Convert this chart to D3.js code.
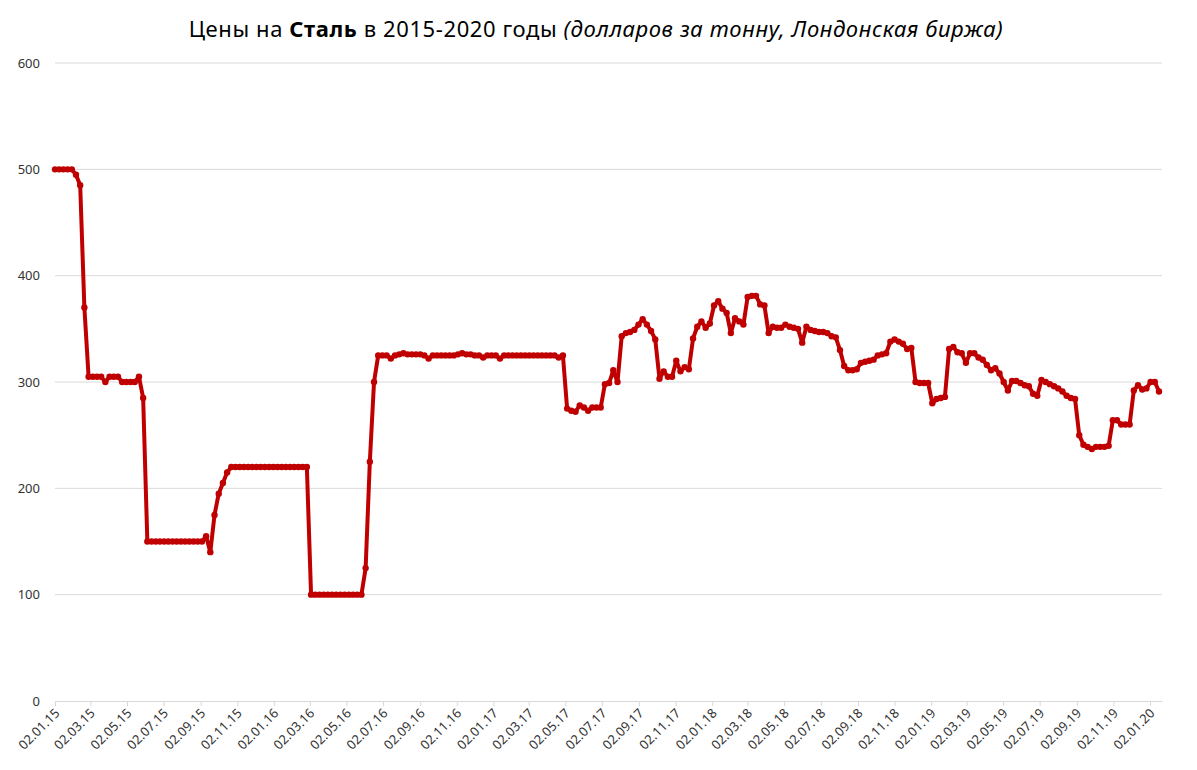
<!DOCTYPE html>
<html>
<head>
<meta charset="utf-8">
<script src="https://cdn.jsdelivr.net/npm/d3@7"></script>
<style>
  body { margin: 0; background: #fff; }
  text { font-family: "Noto Sans", sans-serif; }
</style>
</head>
<body>
<script>
// weekly prices (USD per tonne), first week 02.01.15
var startDate = new Date(2015, 0, 2);
var prices = [
  500,500,500,500,500,495,485,370,305,305,
  305,305,300,305,305,305,300,300,300,300,
  305,285,150,150,150,150,150,150,150,150,
  150,150,150,150,150,150,155,140,175,195,
  205,215,220,220,220,220,220,220,220,220,
  220,220,220,220,220,220,220,220,220,220,
  220,100,100,100,100,100,100,100,100,100,
  100,100,100,100,125,225,300,325,325,325,
  322,325,326,327,326,326,326,326,325,322,
  325,325,325,325,325,325,326,327,326,326,
  325,325,323,325,325,325,322,325,325,325,
  325,325,325,325,325,325,325,325,325,325,
  323,325,275,273,272,278,276,273,276,276,
  276,298,299,311,300,343,346,347,349,354,
  359,354,348,340,303,310,305,305,320,310,
  314,312,341,352,357,351,355,372,376,369,
  365,346,360,357,354,380,381,381,373,372,
  346,352,351,351,354,352,351,350,337,352,
  349,348,347,347,346,343,342,330,315,311,
  311,312,318,319,320,321,325,326,327,338,
  340,338,336,331,332,300,299,299,299,280,
  284,285,286,331,333,328,327,318,327,327,
  323,321,316,311,313,308,300,292,301,301,
  299,297,296,289,287,302,300,298,296,294,
  291,287,285,284,250,241,239,237,239,239,
  239,240,264,264,260,260,260,292,297,293,
  294,300,300,291
];

var tickLabels = [
  "02.01.15","02.03.15","02.05.15","02.07.15","02.09.15","02.11.15",
  "02.01.16","02.03.16","02.05.16","02.07.16","02.09.16","02.11.16",
  "02.01.17","02.03.17","02.05.17","02.07.17","02.09.17","02.11.17",
  "02.01.18","02.03.18","02.05.18","02.07.18","02.09.18","02.11.18",
  "02.01.19","02.03.19","02.05.19","02.07.19","02.09.19","02.11.19",
  "02.01.20"
];
var yTicks = [0, 100, 200, 300, 400, 500, 600];

var parseDay = d3.timeParse("%d.%m.%y");
var data = prices.map(function(v, i) {
  return { date: d3.timeDay.offset(startDate, 7 * i), value: v };
});
var tickDates = tickLabels.map(parseDay);

var width = 1197, height = 770;
var plotLeft = 55, plotRight = 1162, plotTop = 63, plotBottom = 701;

var svg = d3.select('body').append('svg')
  .attr('width', width)
  .attr('height', height);

var x = d3.scaleTime()
  .domain([startDate, d3.timeDay.offset(new Date(2020, 0, 2), 20)])
  .range([plotLeft, plotRight]);
var y = d3.scaleLinear().domain([0, 600]).range([plotBottom, plotTop]);

// gridlines
svg.append('g').selectAll('line').data(yTicks.slice(1))
  .enter().append('line')
  .attr('x1', plotLeft).attr('x2', plotRight)
  .attr('y1', function(d){ return y(d) }).attr('y2', function(d){ return y(d) })
  .attr('stroke', '#d9d9d9').attr('stroke-width', 1);

// y axis labels
var yAxis = svg.append('g')
  .attr('transform', 'translate(' + plotLeft + ',0)')
  .call(d3.axisLeft(y).tickValues(yTicks).tickSize(0).tickPadding(15));
yAxis.select('.domain').remove();
yAxis.selectAll('text').attr('font-size', 13).attr('fill', '#333')
  .attr('font-family', '"Noto Sans", sans-serif');

// x axis
var xAxis = svg.append('g')
  .attr('transform', 'translate(0,' + plotBottom + ')')
  .call(d3.axisBottom(x).tickValues(tickDates).tickSizeInner(5).tickSizeOuter(0)
    .tickFormat(function(d, i){ return tickLabels[i] }));
xAxis.select('.domain').attr('stroke', '#d9d9d9');
xAxis.selectAll('.tick line').attr('stroke', '#d9d9d9');
xAxis.selectAll('text')
  .attr('font-size', 13).attr('fill', '#333')
  .attr('font-family', '"Noto Sans", sans-serif')
  .attr('text-anchor', 'end')
  .attr('dy', null).attr('y', 0)
  .attr('transform', 'translate(5,13) rotate(-45)');

// price line
var line = d3.line()
  .x(function(d){ return x(d.date) })
  .y(function(d){ return y(d.value) });

svg.append('path')
  .datum(data)
  .attr('d', line)
  .attr('fill', 'none')
  .attr('stroke', '#c00000')
  .attr('stroke-width', 4)
  .attr('stroke-linejoin', 'round');

svg.append('g').selectAll('circle').data(data)
  .enter().append('circle')
  .attr('cx', function(d){ return x(d.date) })
  .attr('cy', function(d){ return y(d.value) })
  .attr('r', 3.2)
  .attr('fill', '#c00000');

// title
var title = svg.append('text')
  .attr('x', 596).attr('y', 37)
  .attr('text-anchor', 'middle')
  .attr('font-size', 22)
  .attr('letter-spacing', 0.6)
  .attr('fill', '#000');
title.append('tspan').text('Цены на ');
title.append('tspan').attr('font-weight', 'bold').text('Сталь');
title.append('tspan').text(' в 2015-2020 годы ');
title.append('tspan').attr('font-style', 'italic').text('(долларов за тонну, Лондонская биржа)');
</script>
</body>
</html>
